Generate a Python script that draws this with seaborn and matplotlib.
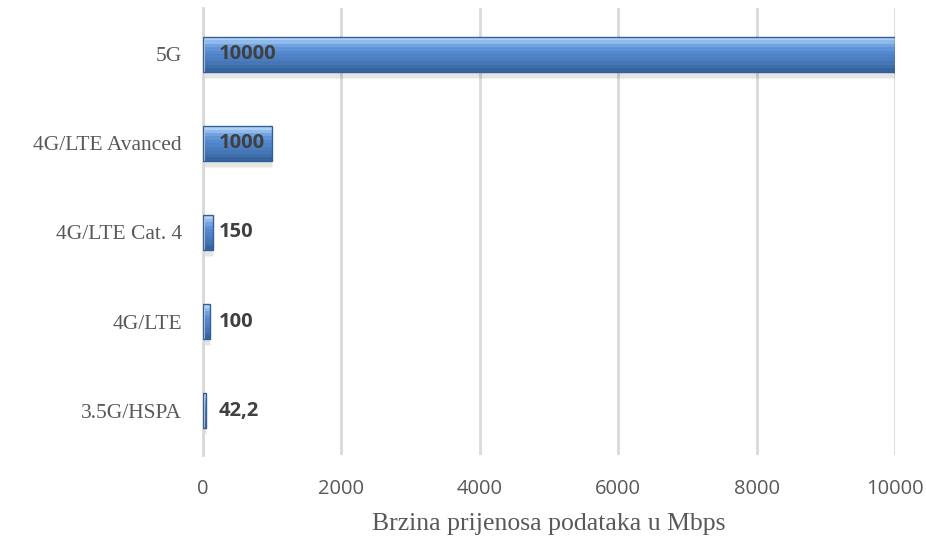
import numpy as np
import pandas as pd
import matplotlib
matplotlib.use("Agg")
import matplotlib.pyplot as plt
import seaborn as sns

# ---------------------------------------------------------------
# data
# ---------------------------------------------------------------
categories = ["5G", "4G/LTE Avanced", "4G/LTE Cat. 4", "4G/LTE", "3.5G/HSPA"]
speeds = [10000, 1000, 150, 100, 42.2]
value_labels = ["10000", "1000", "150", "100", "42,2"]
x_ticks = [0, 2000, 4000, 6000, 8000, 10000]

df = pd.DataFrame({"tech": categories, "speed": speeds})

sns.set_style("white")

fig = plt.figure(figsize=(9.26, 5.38), dpi=100)
ax = fig.add_axes([0.219, 0.154, 0.7475, 0.831])

BAR_W = 0.39

# shadow under bars
for i, v in enumerate(speeds):
    ax.barh(i + 0.05, v, height=BAR_W + 0.03, left=0, color="#000000", alpha=0.10, zorder=1)

# gradient fill (light top -> darker bottom), stripes that touch each other
grad = ["#b0cff4", "#8ebbec", "#72a3e0", "#5f94d7", "#5589cf",
        "#4f83c7", "#4a7cbf", "#4576b6", "#3f6eac", "#37639d"]
step = BAR_W / len(grad)
for i, v in enumerate(speeds):
    for k, col in enumerate(grad):
        top = i - BAR_W / 2 + k * step
        ax.barh(top + step / 2, v, height=step * 1.02, left=0, color=col,
                zorder=2, linewidth=0)

# outline from seaborn
sns.barplot(data=df, x="speed", y="tech", order=categories, orient="h",
            color="#33609a", width=BAR_W, fill=False, ax=ax, zorder=4, linewidth=1)

ax.set_xlim(0, 10000)
ax.set_ylim(4.5, -0.52)
ax.set_xticks(x_ticks)
ax.set_xticklabels([str(t) for t in x_ticks], fontsize=14.5, color="#595959",
                   family=["Open Sans", "DejaVu Sans"])
ax.tick_params(axis="x", length=0, pad=17)
ax.tick_params(axis="y", length=0, pad=15)
for lab in ax.get_yticklabels():
    lab.set_family(["Liberation Serif", "DejaVu Serif"])
    lab.set_fontsize(15.5)
    lab.set_color("#595959")

ax.set_ylabel("")
ax.set_xlabel("Brzina prijenosa podataka u Mbps", fontsize=18.5,
              family=["Liberation Serif", "DejaVu Serif"], color="#595959", labelpad=10)

ax.grid(axis="x", color="#d9d9d9", linewidth=2)
ax.set_axisbelow(True)
for s in ["top", "right", "bottom"]:
    ax.spines[s].set_visible(False)
ax.spines["left"].set_color("#d9d9d9")
ax.spines["left"].set_linewidth(2)

# value labels next to the bar base
for i, t in enumerate(value_labels):
    ax.text(225, i, t, va="center", ha="left", fontsize=14.5, fontweight="bold",
            color="#404040", family=["Open Sans", "DejaVu Sans"], zorder=5)

fig.savefig("out.png", dpi=100)
